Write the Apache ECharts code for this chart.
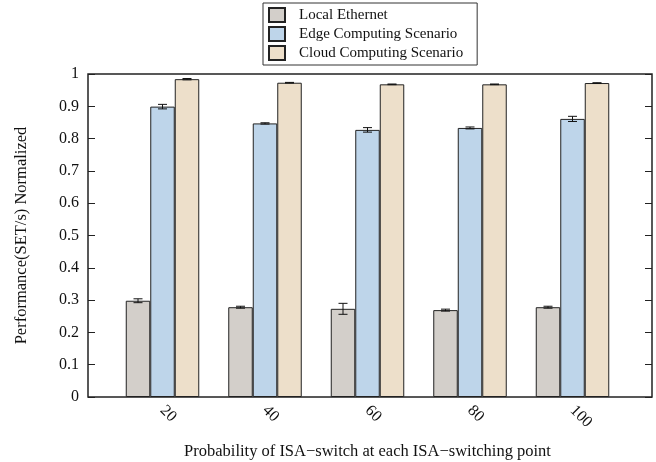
<!DOCTYPE html>
<html><head><meta charset="utf-8">
<script src="https://cdn.jsdelivr.net/npm/echarts@6/dist/echarts.min.js"></script>
<style>html,body{margin:0;padding:0;background:#fff}#c{width:656px;height:462px}</style>
</head><body><div id="c"></div>
<script>
const categories = ['20', '40', '60', '80', '100'];
const seriesNames = ['Local Ethernet', 'Edge Computing Scenario', 'Cloud Computing Scenario'];
const localVals = [0.298, 0.278, 0.273, 0.269, 0.278];
const localErr = [0.006, 0.003, 0.017, 0.003, 0.003];
const edgeVals = [0.899, 0.847, 0.827, 0.833, 0.861];
const edgeErr = [0.007, 0.002, 0.007, 0.003, 0.008];
const cloudVals = [0.984, 0.973, 0.968, 0.968, 0.972];
const cloudErr = [0.002, 0.001, 0.001, 0.001, 0.001];
const yTicks = [0, 0.1, 0.2, 0.3, 0.4, 0.5, 0.6, 0.7, 0.8, 0.9, 1];

const colors = ['#d3cfca', '#bed5ea', '#eddfca'];
const FONT = 'Liberation Serif';
const BAR_W = 24.5;
const valsAll = [localVals, edgeVals, cloudVals];
const errAll = [localErr, edgeErr, cloudErr];

const chart = echarts.init(document.getElementById('c'), null, {renderer: 'canvas'});

const barSeries = seriesNames.map((n, k) => ({
  name: n, type: 'bar', xAxisIndex: 1, yAxisIndex: 2,
  data: valsAll[k], barWidth: BAR_W, barGap: '0%',
  itemStyle: {color: colors[k], borderColor: '#222', borderWidth: 1},
  emphasis: {disabled: true}, z: 3
}));

const errSeries = seriesNames.map((n, k) => ({
  type: 'custom', xAxisIndex: 1, yAxisIndex: 2, z: 5, silent: true,
  data: valsAll[k].map((v, i) => [i, v, errAll[k][i]]),
  renderItem: function (params, api) {
    const i = api.value(0), v = api.value(1), e = api.value(2);
    const c = api.coord([i, v]);
    const off = (k - 1) * BAR_W;
    const x = c[0] + off;
    const top = api.coord([i, v + e])[1];
    const bot = api.coord([i, v - e])[1];
    const cap = 4.5;
    const st = {stroke: '#111', lineWidth: 1};
    return {type: 'group', children: [
      {type: 'line', shape: {x1: x, y1: top, x2: x, y2: bot}, style: st},
      {type: 'line', shape: {x1: x - cap, y1: top, x2: x + cap, y2: top}, style: st},
      {type: 'line', shape: {x1: x - cap, y1: bot, x2: x + cap, y2: bot}, style: st}
    ]};
  }
}));

chart.setOption({
  animation: false,
  backgroundColor: '#fff',
  legend: {
    data: seriesNames, orient: 'vertical', left: 263, top: 3,
    borderColor: '#333', borderWidth: 1, padding: [4, 14, 4, 5],
    itemWidth: 16, itemHeight: 14, itemGap: 3, icon: 'rect',
    textStyle: {fontFamily: FONT, fontSize: 15, lineHeight: 15, color: '#111', padding: [0, 0, 0, 9]},
    selectedMode: false
  },
  grid: [
    {left: 88, right: 4, top: 74, bottom: 65, show: true, borderColor: '#222', borderWidth: 1.5,
     backgroundColor: 'transparent', containLabel: false, outerBoundsMode: 'none'},
    {left: 111.25, right: 32.25, top: 74, bottom: 65, containLabel: false, outerBoundsMode: 'none'}
  ],
  xAxis: [
    {type: 'value', gridIndex: 0, min: 0, max: 1, show: false},
    {type: 'category', gridIndex: 1, data: categories,
     axisLine: {show: false}, axisTick: {show: false},
     axisLabel: {rotate: -45, margin: 11, fontFamily: FONT, fontSize: 16, color: '#111'},
     name: 'Probability of ISA\u2212switch at each ISA\u2212switching point',
     nameLocation: 'middle', nameGap: 46,
     nameTextStyle: {fontFamily: FONT, fontSize: 16.5, color: '#111'}}
  ],
  yAxis: [
    {type: 'value', gridIndex: 0, min: 0, max: 1, interval: 0.1,
     axisLine: {show: false}, splitLine: {show: false},
     axisTick: {show: true, inside: true, length: 7, lineStyle: {color: '#222'}},
     axisLabel: {fontFamily: FONT, fontSize: 16, color: '#111', margin: 9,
       formatter: v => { const t = yTicks.find(x => Math.abs(x - v) < 1e-6); return t === undefined ? '' : String(t); }},
     name: 'Performance(SET/s) Normalized', nameLocation: 'middle', nameGap: 58,
     nameTextStyle: {fontFamily: FONT, fontSize: 16.5, color: '#111'}},
    {type: 'value', gridIndex: 0, min: 0, max: 1, interval: 0.1, position: 'right',
     axisLine: {show: false}, splitLine: {show: false}, axisLabel: {show: false},
     axisTick: {show: true, inside: true, length: 7, lineStyle: {color: '#222'}}},
    {type: 'value', gridIndex: 1, min: 0, max: 1, show: false}
  ],
  series: [...barSeries, ...errSeries]
});
</script></body></html>
